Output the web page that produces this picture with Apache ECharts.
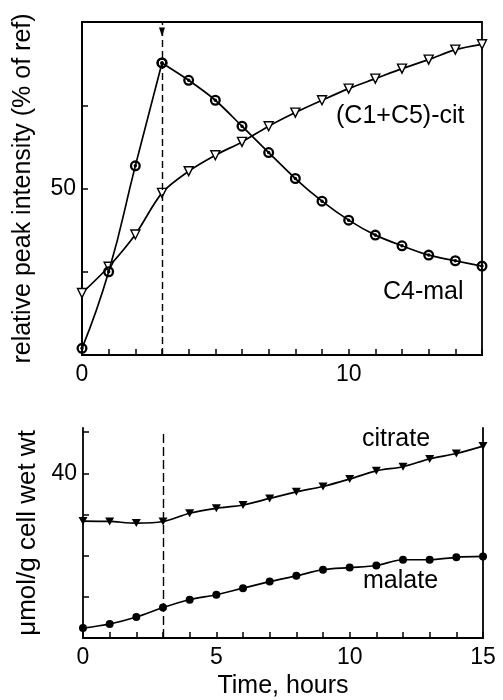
<!DOCTYPE html>
<html><head><meta charset="utf-8">
<script src="https://cdn.jsdelivr.net/npm/echarts@6/dist/echarts.min.js"></script>
<style>html,body{margin:0;padding:0;background:#fff}#c{width:503px;height:700px}</style>
</head><body><div id="c"></div><script>
// ---- data ----
const hours = [0,1,2,3,4,5,6,7,8,9,10,11,12,13,14,15];
const c4mal = [2,25,56.8,87.7,82.5,76.5,68.7,60.8,53,46.2,40.5,36,32.8,30,28.3,26.7];
const c1c5cit = [18.6,26.5,36.2,48.7,55.2,60,64,68.7,72.8,76.5,80,83,86,88.7,91.7,93.3];
const citrate = [28.4,28.3,27.9,28.3,30.3,31.5,32.3,33.9,35.5,36.8,38.6,40.6,41.6,43.5,44.8,46.6];
const malate = [2.4,3.4,5.1,7.4,9.3,10.5,12.1,13.7,15.1,16.6,17.1,17.6,19.0,19.0,19.6,19.8];
const topXLabels = [0,10];
const bottomXLabels = [0,5,10,15];
const topYLabels = [50];
const bottomYLabels = [40];
const markerTime = 3;
const seriesNames = ['(C1+C5)-cit','C4-mal','citrate','malate'];

const pairs = (ys) => hours.map((h,i)=>[h, ys[i]]);
const FONT = 'Liberation Sans, Arial, Helvetica, sans-serif';
const ring = 'path://M0,-10A10,10,0,1,1,0,10A10,10,0,1,1,0,-10ZM0,-5.8A5.8,5.8,0,1,0,0,5.8A5.8,5.8,0,1,0,0,-5.8ZM0,-3.2A3.2,3.2,0,1,1,0,3.2A3.2,3.2,0,1,1,0,-3.2Z';
const peakIdx = hours.indexOf(markerTime);
const lineStyle = {color:'#000', width:1.7};
const axisLine = {show:true, lineStyle:{color:'#000', width:1.8}};
const tick = {show:true, inside:true, length:6, lineStyle:{color:'#000', width:1.5}};
const lbl = (list, size, margin) => ({
  show:true, color:'#000', fontSize:size, fontFamily:FONT, margin:margin,
  formatter: v => list.includes(v) ? String(v) : ''
});

const chart = echarts.init(document.getElementById('c'), null, {renderer:'canvas'});
chart.setOption({
  backgroundColor:'#fff',
  animation:false,
  grid:[
    {left:82, top:22, width:400, height:333, show:true, borderColor:'#000', borderWidth:1.8, backgroundColor:'transparent'},
    {left:83, top:428, width:400, height:210}
  ],
  xAxis:[
    {gridIndex:0, type:'value', min:0, max:15, interval:1, axisLine, axisTick:tick,
     axisLabel:lbl(topXLabels,23,8), splitLine:{show:false}},
    {gridIndex:1, type:'value', min:0, max:15, interval:1, axisLine, axisTick:tick,
     axisLabel:lbl(bottomXLabels,23,8), splitLine:{show:false},
     name:'Time, hours', nameLocation:'middle', nameGap:36,
     nameTextStyle:{color:'#000', fontSize:25, fontFamily:FONT}}
  ],
  yAxis:[
    {gridIndex:0, type:'value', min:0, max:100, interval:25, axisLine, axisTick:tick,
     axisLabel:lbl(topYLabels,23,6), splitLine:{show:false},
     name:'relative peak intensity (% of ref)', nameLocation:'middle', nameGap:46,
     nameTextStyle:{color:'#000', fontSize:25, fontFamily:FONT}},
    {gridIndex:1, type:'value', min:0, max:51, interval:10, axisLine,
     axisTick:Object.assign({}, tick, {customValues:[0,10,20,30,40,50]}),
     axisLabel:Object.assign(lbl(bottomYLabels,23,6), {customValues:bottomYLabels}), splitLine:{show:false},
     name:'\u03bcmol/g cell wet wt', nameLocation:'middle', nameGap:38,
     nameTextStyle:{color:'#000', fontSize:26, fontFamily:FONT}},
    {gridIndex:1, type:'value', min:0, max:51, position:'right', axisLine,
     axisTick:{show:false}, axisLabel:{show:false}, splitLine:{show:false}}
  ],
  series:[
    {name:seriesNames[1], type:'line', xAxisIndex:0, yAxisIndex:0, smooth:0.5,
     data:pairs(c4mal).slice(0, peakIdx+1), symbol:ring, symbolSize:11,
     itemStyle:{color:'#000'}, lineStyle, z:3},
    {name:seriesNames[1], type:'line', xAxisIndex:0, yAxisIndex:0, smooth:0.3,
     data:pairs(c4mal).slice(peakIdx), symbol:ring, symbolSize:11,
     itemStyle:{color:'#000'}, lineStyle, z:3},
    {name:seriesNames[0], type:'line', xAxisIndex:0, yAxisIndex:0, smooth:0.3,
     data:pairs(c1c5cit), symbol:'triangle', symbolRotate:180, symbolSize:[9,9],
     itemStyle:{color:'#fff', borderColor:'#000', borderWidth:1.4}, lineStyle, z:2,
     markLine:{silent:true, symbol:['none','none'], label:{show:false},
       lineStyle:{color:'#000', width:1.4, type:[7,4]},
       data:[[{coord:[markerTime,0]},{coord:[markerTime,100]}]]},
     markPoint:{silent:true, symbol:'triangle', symbolRotate:180, symbolSize:[6,9],
       itemStyle:{color:'#000'}, label:{show:false}, data:[{coord:[markerTime,97]}]}},
    {name:seriesNames[2], type:'line', xAxisIndex:1, yAxisIndex:1, smooth:0.3,
     data:pairs(citrate), symbol:'triangle', symbolRotate:180, symbolSize:[9,8],
     itemStyle:{color:'#000'}, lineStyle,
     markLine:{silent:true, symbol:['none','none'], label:{show:false},
       lineStyle:{color:'#000', width:1.4, type:[9,4]},
       data:[[{coord:[markerTime,0]},{coord:[markerTime,50.5]}]]}},
    {name:seriesNames[3], type:'line', xAxisIndex:1, yAxisIndex:1, smooth:0.3,
     data:pairs(malate), symbol:'circle', symbolSize:8,
     itemStyle:{color:'#000'}, lineStyle}
  ],
  graphic:[
    {type:'text', left:336, top:104, style:{text:seriesNames[0], fill:'#000', font:'25px '+FONT}},
    {type:'text', left:383, top:280, style:{text:seriesNames[1], fill:'#000', font:'25px '+FONT}},
    {type:'text', left:362, top:427, style:{text:seriesNames[2], fill:'#000', font:'25px '+FONT}},
    {type:'text', left:363, top:569, style:{text:seriesNames[3], fill:'#000', font:'25px '+FONT}}
  ]
});
</script></body></html>
